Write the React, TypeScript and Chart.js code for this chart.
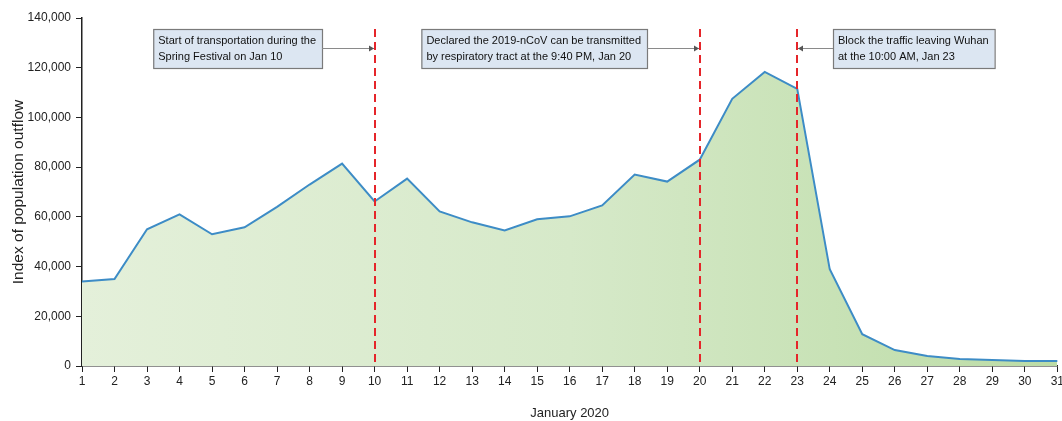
import React, { useEffect, useRef } from "react";
import { Chart, registerables } from "chart.js";

Chart.register(...registerables);

const days: string[] = [
  "1","2","3","4","5","6","7","8","9","10","11","12","13","14","15","16",
  "17","18","19","20","21","22","23","24","25","26","27","28","29","30","31",
];
const outflow: number[] = [
  34000, 35000, 55000, 61000, 53000, 55800, 64000, 73000, 81400, 66200,
  75400, 62200, 57800, 54500, 59000, 60200, 64600, 77000, 74200, 83000,
  107500, 118300, 111500, 38900, 12800, 6400, 4000, 2800, 2400, 2000, 2000,
];
const yTicks: number[] = [0, 20000, 40000, 60000, 80000, 100000, 120000, 140000];
const eventDays: string[] = ["10", "20", "23"];
const eventTexts: string[][] = [
  ["Start of transportation during the", "Spring Festival on Jan 10"],
  ["Declared the 2019-nCoV can be transmitted", "by respiratory tract at the 9:40 PM, Jan 20"],
  ["Block the traffic leaving Wuhan", "at the 10:00 AM, Jan 23"],
];

const FONT = "'Liberation Sans', Arial, sans-serif";

function drawDashes(chart: any) {
  const { ctx, chartArea, scales } = chart;
  const x = scales.x;
  ctx.save();
  ctx.strokeStyle = "#e5252a";
  ctx.lineWidth = 2;
  ctx.setLineDash([8, 5]);
  eventDays.forEach((d) => {
    const px = Math.round(x.getPixelForValue(days.indexOf(d)));
    ctx.beginPath();
    ctx.moveTo(px, chartArea.top + 11);
    ctx.lineTo(px, chartArea.bottom);
    ctx.stroke();
  });
  ctx.restore();
}

const eventPlugin = {
  id: "events",
  afterDatasetsDraw(chart: any) {
    drawDashes(chart);
    const { ctx, chartArea, scales } = chart;
    const x = scales.x;
    ctx.save();
    ctx.setLineDash([]);
    ctx.font = `11px ${FONT}`;
    const top = chartArea.top + 11;
    const h = 39;
    eventDays.forEach((d, i) => {
      const px = Math.round(x.getPixelForValue(days.indexOf(d)));
      const lines = eventTexts[i];
      const w = Math.max(...lines.map((l) => ctx.measureText(l).width)) + 11;
      const leftSide = i < 2;
      const bx = leftSide ? px - 53 - w : px + 36;
      ctx.fillStyle = "#dce6f2";
      ctx.fillRect(bx, top, w, h);
      ctx.strokeStyle = "#7a7a7a";
      ctx.lineWidth = 1.2;
      ctx.strokeRect(bx + 0.5, top + 0.5, w, h);
      ctx.fillStyle = "#111";
      ctx.textBaseline = "middle";
      ctx.textAlign = "left";
      ctx.fillText(lines[0], bx + 5, top + 11.5);
      ctx.fillText(lines[1], bx + 5, top + 28);
      const ay = top + 19.5;
      const sx = leftSide ? bx + w : bx;
      const ex = leftSide ? px - 1 : px + 1;
      ctx.strokeStyle = "#8a8a8a";
      ctx.lineWidth = 1;
      ctx.beginPath();
      ctx.moveTo(sx, ay);
      ctx.lineTo(ex, ay);
      ctx.stroke();
      ctx.fillStyle = "#555";
      const dir = leftSide ? 1 : -1;
      ctx.beginPath();
      ctx.moveTo(ex, ay);
      ctx.lineTo(ex - dir * 5, ay - 3);
      ctx.lineTo(ex - dir * 5, ay + 3);
      ctx.closePath();
      ctx.fill();
    });
    ctx.restore();
  },
};

export default function App() {
  const ref = useRef<HTMLCanvasElement>(null);
  useEffect(() => {
    document.body.style.margin = "0";
    const canvas = ref.current!;
    const chart = new Chart(canvas, {
      type: "line",
      data: {
        labels: days,
        datasets: [
          {
            data: outflow,
            borderColor: "#3d8cc6",
            borderWidth: 2,
            pointRadius: 0,
            tension: 0,
            fill: "origin",
            backgroundColor: (c: any) => {
              const area = c.chart.chartArea;
              if (!area) return "#d5e9c7";
              const g = c.chart.ctx.createLinearGradient(area.left, 0, area.right, 0);
              g.addColorStop(0, "#e4f0da");
              g.addColorStop(0.5, "#d6e9c9");
              g.addColorStop(1, "#bcdca6");
              return g;
            },
          },
        ],
      },
      options: {
        animation: false,
        responsive: false,
        maintainAspectRatio: false,
        layout: { padding: { top: 18, right: 0, left: 0, bottom: 0 } },
        plugins: { legend: { display: false }, tooltip: { enabled: false } },
        scales: {
          x: {
            offset: false,
            grid: {
              display: true,
              drawOnChartArea: false,
              drawTicks: true,
              tickLength: 6,
              color: "#222",
            },
            border: { color: "#222", width: 1.5 },
            ticks: {
              color: "#222",
              font: { family: FONT, size: 12 },
              padding: 2,
              maxRotation: 0,
              autoSkip: false,
            },
            title: {
              display: true,
              text: "January 2020",
              color: "#222",
              font: { family: FONT, size: 13 },
              padding: { top: 14, bottom: 0 },
            },
            afterFit: (s: any) => {
              s.height = 55;
            },
          },
          y: {
            min: 0,
            max: 140000,
            afterBuildTicks: (s: any) => {
              s.ticks = yTicks.map((v) => ({ value: v }));
            },
            grid: {
              display: true,
              drawOnChartArea: false,
              drawTicks: true,
              tickLength: 6,
              color: "#222",
            },
            border: { color: "#222", width: 1.5 },
            ticks: {
              color: "#222",
              font: { family: FONT, size: 12 },
              padding: 5,
              callback: (v: any) => Number(v).toLocaleString("en-US"),
            },
            title: {
              display: true,
              text: "Index of population outflow",
              color: "#222",
              font: { family: FONT, size: 15.5 },
              padding: { top: 9, bottom: 2 },
            },
            afterFit: (s: any) => {
              s.width = 82;
            },
          },
        },
      },
      plugins: [eventPlugin],
    });
    return () => chart.destroy();
  }, []);
  return (
    <div style={{ width: 1062, height: 421, overflow: "hidden" }}>
      <canvas ref={ref} width={1066} height={421} style={{ display: "block" }} />
    </div>
  );
}
